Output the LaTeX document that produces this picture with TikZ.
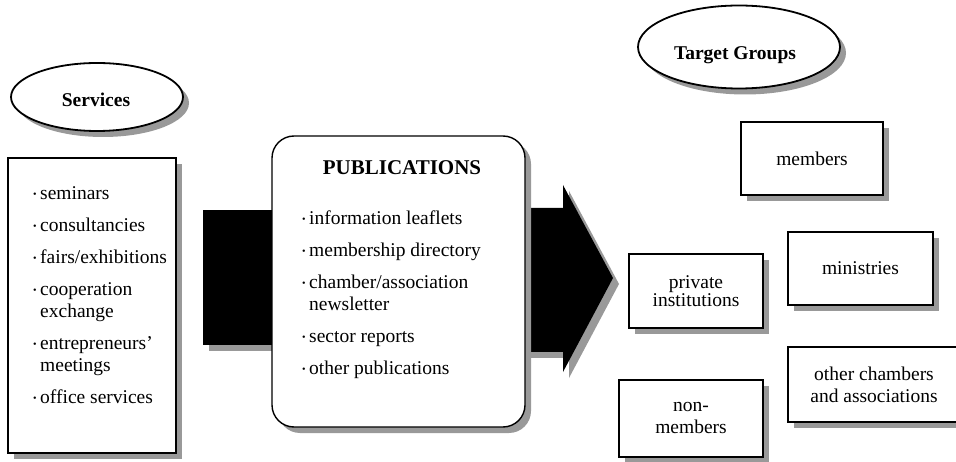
\documentclass[tikz,border=0pt]{standalone}
\usepackage{fontspec}
\setmainfont{Liberation Serif}
\usetikzlibrary{shapes.geometric,shadows}
\newcommand\txtfont{\fontsize{19.5}{22}\selectfont}
\newcommand\hdfont{\fontsize{19.5}{22}\selectfont\bfseries}
\newcommand\bl{\makebox[7pt][l]{\raisebox{0.12em}{\fontsize{10}{10}\selectfont\textbullet}}}
\newcommand\ind{\hspace*{7pt}}
\begin{document}
\begin{tikzpicture}[x=1pt,y=-1pt,
  shadowed/.style={drop shadow={shadow xshift=6pt,shadow yshift=-6pt,fill=black!40,opacity=1}},
  box/.style={rectangle,draw=black,line width=1.4pt,fill=white,shadowed,inner sep=0pt,align=center,font=\txtfont},
  oval/.style={ellipse,draw=black,line width=1.8pt,fill=white,shadowed,inner sep=0pt},
  head/.style={inner sep=0pt,anchor=base,font=\hdfont},
  list/.style={inner sep=0pt,anchor=base west,font=\txtfont},
]
\useasboundingbox (0,0) rectangle (956,462);

% ---- services ----
\node[oval,minimum width=172pt,minimum height=68pt] (svcoval) at (97,97) {};
\node[head] (svctitle) at (96,107) {Services};
\node[box,minimum width=168pt,minimum height=295pt] (svcbox) at (92,305.5) {};
\node[list] (svclist) at (33,200) {\begin{tabular}[t]{@{}l@{}}
\bl seminars\\[10pt]
\bl consultancies\\[10pt]
\bl fairs/exhibitions\\[10pt]
\bl cooperation\\
\ind exchange\\[10pt]
\bl entrepreneurs’\\
\ind meetings\\[10pt]
\bl office services
\end{tabular}};

% ---- block arrow into the publications box ----
\fill[black,shadowed] (203,210) rectangle (290,345);

% ---- block arrow out of the publications box ----
\fill[black,shadowed] (505,208) -- (563,208) -- (563,185) -- (613,278)
  -- (563,372) -- (563,352) -- (505,352) -- cycle;

% ---- publications ----
\node[box,rounded corners=22pt,minimum width=253pt,minimum height=291pt] (pubbox) at (398.5,281.5) {};
\node[head,font=\fontsize{21}{24}\selectfont\bfseries] (pubtitle) at (402,175) {PUBLICATIONS};
\node[list] (publist) at (302,225) {\begin{tabular}[t]{@{}l@{}}
\bl information leaflets\\[10pt]
\bl membership directory\\[10pt]
\bl chamber/association\\
\ind newsletter\\[10pt]
\bl sector reports\\[10pt]
\bl other publications
\end{tabular}};

% ---- target groups ----
\node[oval,minimum width=202pt,minimum height=83pt] (tgoval) at (739,47) {};
\node[head] (tgtitle) at (735,60) {Target Groups};

\node[box,minimum width=142pt,minimum height=73pt] (members) at (812,158.5) {members};
\node[box,minimum width=145pt,minimum height=73pt] (ministries) at (860.5,268.5) {ministries};
\node[box,minimum width=134pt,minimum height=74pt,font=\fontsize{19.5}{18}\selectfont] (private) at (696,291) {private\\institutions};
\node[box,minimum width=144pt,minimum height=77pt] (nonmembers) at (691,418.5) {non-\\members};
\node[box,minimum width=172pt,minimum height=75pt] (otherch) at (874,384.5) {other chambers\\and associations};
\end{tikzpicture}
\end{document}
